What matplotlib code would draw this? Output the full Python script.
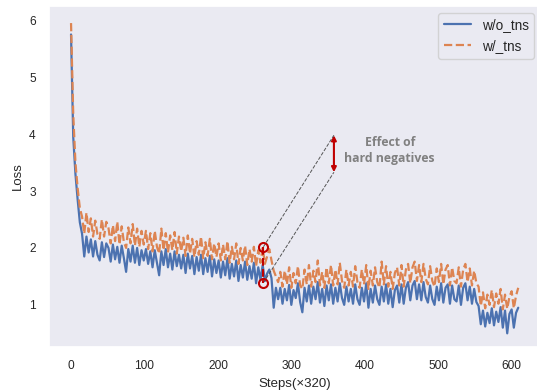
import numpy as np
import seaborn as sns
import matplotlib.pyplot as plt

# loss, one value every 3 steps (x320)
loss_wo = [5.75, 3.95, 3.30, 2.85, 2.45,
           2.25, 1.85, 2.20, 1.92, 2.15, 1.85, 2.12, 1.88, 1.78, 2.10, 1.84, 2.08,
           2.00, 1.76, 2.06, 1.80, 2.02, 1.74, 2.04, 1.82, 1.58, 1.98, 1.76, 2.04, 1.74, 2.00, 1.70, 1.96, 1.78,
           1.98, 1.72, 1.94, 1.66, 1.96, 1.74, 1.52, 1.94, 1.70, 1.98, 1.66, 1.90, 1.62, 1.94, 1.68, 1.88, 1.64,
           1.88, 1.56, 1.90, 1.64, 1.86, 1.54, 1.84, 1.60, 1.88, 1.54, 1.82, 1.58, 1.86, 1.50, 1.80, 1.56,
           1.78, 1.48, 1.76, 1.52, 1.82, 1.46, 1.72, 1.50, 1.78, 1.42, 1.70, 1.48, 1.76, 1.44, 1.68, 1.46,
           1.74, 1.38, 1.66, 1.44, 1.70, 1.42,
           1.55, 1.62, 1.47, 0.95, 1.30, 1.10,
           1.30, 1.02, 1.28, 1.08, 1.35, 1.00, 1.26, 1.12, 1.38, 1.05,
           0.87, 1.30, 1.06, 1.34, 1.02, 1.32, 1.10, 1.40, 1.04, 1.28,
           0.98, 1.34, 1.08, 1.36, 1.02, 1.30, 1.06, 1.38, 1.12, 1.00,
           1.32, 1.06, 1.28, 1.02, 1.36, 1.10, 1.00, 1.30, 1.06, 1.38,
           0.95, 1.28, 1.04, 1.34, 1.10, 1.00, 1.32, 1.06, 1.36, 1.02,
           1.28, 0.96, 1.26, 1.34, 1.04, 1.36, 1.02, 1.30, 1.40, 1.08,
           1.34, 1.42, 1.10, 1.36, 1.08, 1.40, 1.14, 1.04, 1.34, 1.10,
           1.00, 1.32, 1.08, 1.38, 1.04, 1.30, 1.36, 1.02, 1.34, 1.10,
           1.06, 1.34, 1.00, 1.30, 1.38, 1.08, 1.32, 1.02, 1.28, 1.05,
           0.98, 0.66, 0.90, 0.62, 0.86, 0.68, 0.94, 0.64, 0.88, 0.70,
           0.96, 0.60, 0.90, 0.50, 0.84, 0.92, 0.60, 0.86, 0.95]

loss_w = [5.95, 4.35, 3.50, 3.05, 2.70,
          2.55, 2.25, 2.62, 2.28, 2.52, 2.20, 2.48, 2.24, 2.16, 2.50, 2.20, 2.46,
          2.35, 2.08, 2.40, 2.12, 2.46, 2.06, 2.38, 2.10, 2.00, 2.36, 2.08, 2.42, 2.04, 2.34, 2.02, 2.30, 2.06,
          2.30, 1.98, 2.26, 1.94, 2.30, 2.02, 1.90, 2.34, 1.96, 2.26, 1.92, 2.22, 1.96, 2.28, 1.90, 2.20, 1.94,
          2.18, 1.86, 2.22, 1.90, 2.16, 1.84, 2.12, 1.88, 2.20, 1.82, 2.10, 1.86, 2.16, 1.80, 2.08, 1.84,
          2.08, 1.78, 2.06, 1.80, 2.12, 1.74, 2.02, 1.80, 2.08, 1.72, 2.00, 1.78, 2.04, 1.70, 1.98, 1.76,
          2.02, 1.68, 1.96, 1.74, 2.00, 1.72,
          1.85, 1.98, 1.78, 1.60, 1.50, 1.40,
          1.58, 1.32, 1.60, 1.36, 1.66, 1.30, 1.56, 1.38, 1.68, 1.34,
          1.28, 1.62, 1.36, 1.70, 1.32, 1.60, 1.40, 1.78, 1.34, 1.58,
          1.30, 1.66, 1.38, 1.70, 1.34, 1.62, 1.36, 1.74, 1.42, 1.30,
          1.62, 1.34, 1.58, 1.32, 1.68, 1.40, 1.30, 1.62, 1.36, 1.70,
          1.28, 1.60, 1.34, 1.66, 1.40, 1.30, 1.76, 1.36, 1.68, 1.32,
          1.58, 1.28, 1.56, 1.66, 1.34, 1.70, 1.32, 1.62, 1.72, 1.38,
          1.66, 1.76, 1.42, 1.70, 1.40, 1.72, 1.46, 1.36, 1.68, 1.42,
          1.32, 1.64, 1.40, 1.72, 1.36, 1.62, 1.70, 1.34, 1.66, 1.42,
          1.38, 1.66, 1.32, 1.62, 1.72, 1.40, 1.64, 1.34, 1.60, 1.38,
          1.32, 0.98, 1.22, 0.94, 1.18, 1.00, 1.26, 0.96, 1.20, 1.02,
          1.28, 0.92, 1.18, 0.93, 1.14, 1.24, 0.94, 1.16, 1.30]

labels = ["w/o_tns", "w/_tns"]

# the marked gap
gap_step = 262
gap_top, gap_bottom = 2.02, 1.39
arrow_step = 358
arrow_top, arrow_bottom = 3.98, 3.33

sns.set_theme(style="dark")
plt.rcParams['font.family'] = ['Liberation Sans', 'DejaVu Sans']

fig = plt.figure(figsize=(5.37, 3.91), dpi=100)
ax = fig.add_axes([49/537, 44/391, 492/537, 341/391])

ax.plot(np.arange(len(loss_wo)) * 3, loss_wo, color='#4C72B0', lw=1.6, label=labels[0])
ax.plot(np.arange(len(loss_w)) * 3, loss_w, color='#DD8452', lw=1.6, ls='--', label=labels[1])

#annotation
red = '#C00000'
ax.plot([gap_step, gap_step], [gap_top, gap_bottom], color=red, lw=1.5, ls='--',
        marker='o', mfc='none', mec=red, ms=6.5, mew=1.5, zorder=5)
ax.plot([gap_step, arrow_step], [gap_top, arrow_top], color='#555555', lw=0.7, ls='--', zorder=4)
ax.plot([gap_step, arrow_step], [gap_bottom, arrow_bottom], color='#555555', lw=0.7, ls='--', zorder=4)
ax.annotate('', xy=(arrow_step, arrow_top), xytext=(arrow_step, arrow_bottom),
            arrowprops=dict(arrowstyle='<|-|>', color=red, lw=1.5, mutation_scale=7,
                            shrinkA=0, shrinkB=0))
ax.text(434, 3.72, 'Effect of\nhard negatives', ha='center', va='center',
        fontsize=8.8, fontweight='bold', color='#808080', family='Open Sans', linespacing=1.3)

ax.set_xlim(-30, 640)
ax.set_ylim(0.26, 6.25)
ax.set_xticks([0, 100, 200, 300, 400, 500, 600])
ax.set_yticks([1, 2, 3, 4, 5, 6])
ax.tick_params(labelsize=8.6)
ax.set_xlabel('Steps(×320)', fontsize=9.5)
ax.set_ylabel('Loss', fontsize=9.5)
ax.legend(loc='upper right', fontsize=9.8)

fig.savefig('out.png', dpi=100)
